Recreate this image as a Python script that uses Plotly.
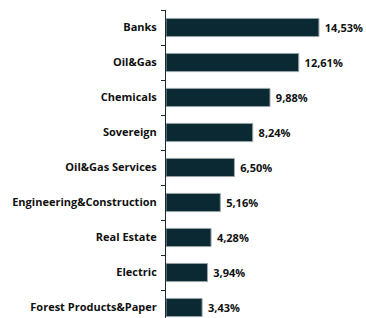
import plotly.graph_objects as go

categories = ["Banks", "Oil&Gas", "Chemicals", "Sovereign", "Oil&Gas Services",
              "Engineering&Construction", "Real Estate", "Electric", "Forest Products&Paper"]
values = [14.53, 12.61, 9.88, 8.24, 6.50, 5.16, 4.28, 3.94, 3.43]
labels = [f"{v:.2f}".replace(".", ",") + "%" for v in values]

fig = go.Figure(go.Bar(
    x=values, y=categories, orientation="h",
    text=labels, texttemplate=" %{text}", textposition="outside", constraintext="none",
    textfont=dict(family="Open Sans", size=11, color="#111111", weight="bold"),
    marker=dict(color="#0B2932", line=dict(color="#9AA6A9", width=1)),
    cliponaxis=False, hoverinfo="skip",
))
fig.update_layout(
    width=366, height=318,
    margin=dict(l=166, r=0, t=10, b=0, autoexpand=False),
    plot_bgcolor="white", paper_bgcolor="white",
    bargap=0.48,
    showlegend=False,
    xaxis=dict(range=[0, 19], visible=False, automargin=False),
    yaxis=dict(
        categoryorder="array", categoryarray=categories,
        range=[8.3, -0.5], automargin=False,
        showline=True, linecolor="#1a2a30", linewidth=1,
        ticks="outside", tickson="boundaries", ticklen=4, tickcolor="#1a2a30",
        tickfont=dict(family="Open Sans", size=11, color="#111111", weight="bold"),
        ticklabelstandoff=6,
    ),
)
fig.write_html("out.html", config={"displayModeBar": False},
               post_script="document.body.style.margin='0';document.body.style.overflow='hidden';")
